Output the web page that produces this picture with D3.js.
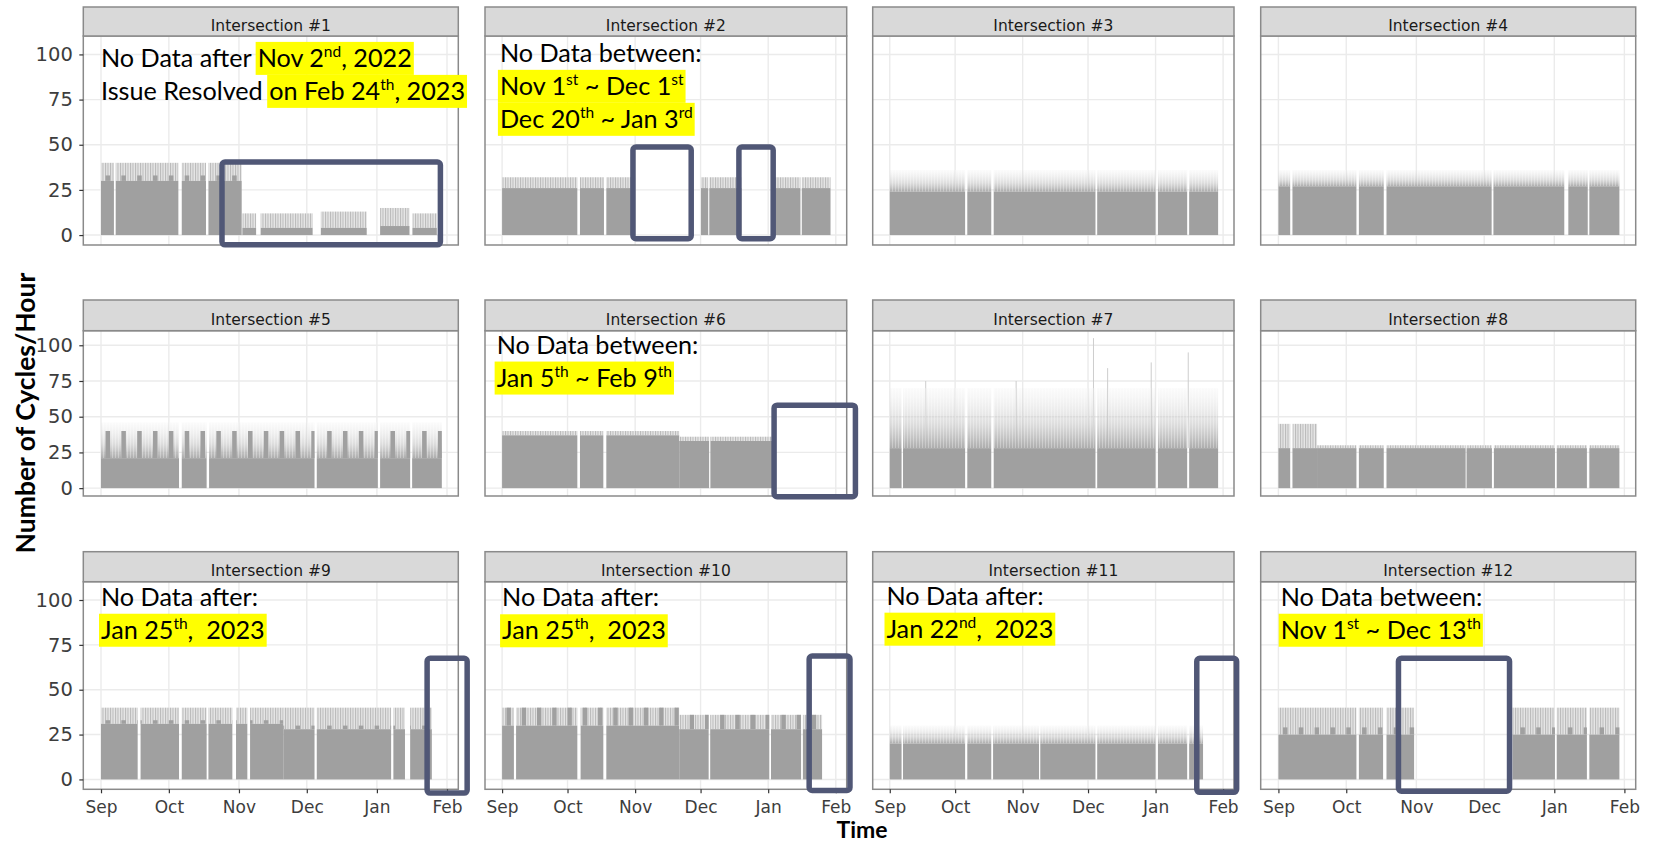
<!DOCTYPE html>
<html><head><meta charset="utf-8">
<script src="https://cdn.jsdelivr.net/npm/d3@7"></script>
<style>body{margin:0;background:#fff}text{white-space:pre}</style>
</head><body>
<svg id="chart" width="1655" height="846"></svg>
<script>
// ---------------- DATA ----------------
const panelTitles = ["Intersection #1","Intersection #2","Intersection #3","Intersection #4",
  "Intersection #5","Intersection #6","Intersection #7","Intersection #8",
  "Intersection #9","Intersection #10","Intersection #11","Intersection #12"];
const monthTicks = ["2022-09-01","2022-10-01","2022-11-01","2022-12-01","2023-01-01","2023-02-01"];
const monthLabels = ["Sep","Oct","Nov","Dec","Jan","Feb"];
const yTicks = [0,25,50,75,100];
const weekendSaturdays = ["2022-09-03","2022-09-10","2022-09-17","2022-09-24","2022-10-01","2022-10-08",
  "2022-10-15","2022-10-22","2022-10-29","2022-11-05","2022-11-12","2022-11-19","2022-11-26","2022-12-03",
  "2022-12-10","2022-12-17","2022-12-24","2022-12-31","2023-01-07","2023-01-14","2023-01-21","2023-01-28"];

// segments: [start, end, dense level, peak level, weekend level]
const seg1 = [["2022-09-01 00","2022-09-06 17",30,40,33],["2022-09-07 12","2022-10-05 05",30,40,33],
  ["2022-10-06 17","2022-10-17 10",30,40,33],["2022-10-18 12","2022-11-02 05",30,40,33],
  ["2022-11-02 12","2022-11-08 14",4,12,null],["2022-11-10 14","2022-12-03 14",4,12,null],
  ["2022-12-07 05","2022-12-27 12",4,13,null],["2023-01-02 10","2023-01-15 10",5,15,null],
  ["2023-01-16 17","2023-01-27 12",4,12,null]];
const seg2 = [["2022-09-01 00","2022-10-05 12",26,32,null],["2022-10-06 17","2022-10-17 17",26,32,null],
  ["2022-10-18 19","2022-11-01 00",26,32,null],["2022-12-01 05","2022-12-04 12",26,32,null],
  ["2022-12-05 00","2022-12-19 19",26,32,null],["2023-01-04 00","2023-01-15 19",26,32,null],
  ["2023-01-16 10","2023-01-29 14",26,32,null]];
const seg3 = [["2022-09-01 00","2022-10-05 14",24,36,null],["2022-10-06 14","2022-10-17 14",24,36,null],
  ["2022-10-18 17","2022-12-04 10",24,36,null],["2022-12-05 05","2023-01-01 00",24,36,null],
  ["2023-01-02 02","2023-01-15 12",24,36,null],["2023-01-16 10","2023-01-29 17",24,36,null]];
const seg4 = [["2022-09-01 00","2022-09-06 05",27,36,null],["2022-09-07 05","2022-10-05 12",27,36,null],
  ["2022-10-06 14","2022-10-17 14",27,36,null],["2022-10-18 19","2022-12-04 07",27,36,null],
  ["2022-12-05 02","2023-01-05 10",27,36,null],["2023-01-07 05","2023-01-15 19",27,36,null],
  ["2023-01-16 12","2023-01-29 19",27,36,null]];
const seg5 = [["2022-09-01 00","2022-10-05 12",21,46,40],["2022-10-06 17","2022-10-17 17",21,46,40],
  ["2022-10-18 19","2022-12-04 10",21,46,40],["2022-12-05 10","2023-01-01 10",21,46,40],
  ["2023-01-02 10","2023-01-15 17",21,46,40],["2023-01-16 14","2023-01-29 17",21,46,40]];
const seg6 = [["2022-09-01 00","2022-10-05 12",37,40,null],["2022-10-06 17","2022-10-17 10",37,40,null],
  ["2022-10-18 19","2022-11-21 05",37,40,null],["2022-11-21 05","2022-12-04 22",33,36,null],
  ["2022-12-05 12","2023-01-04 00",33,36,null]];
const seg7 = [["2022-09-01 00","2022-09-06 10",28,70,null],["2022-09-07 02","2022-10-05 14",28,70,null],
  ["2022-10-06 14","2022-10-17 14",28,70,null],["2022-10-18 17","2022-12-04 10",28,70,null],
  ["2022-12-05 05","2023-01-01 00",28,70,null],["2023-01-02 02","2023-01-15 12",28,70,null],
  ["2023-01-16 10","2023-01-29 17",28,70,null]];
const spikes7 = [["2022-09-17 12",75],["2022-10-29 00",75],["2022-12-03 12",105],["2022-12-10 00",84],
  ["2022-12-30 00",88],["2023-01-16 00",95]];
const seg8 = [["2022-09-01 00","2022-09-06 05",28,45,null],["2022-09-07 05","2022-09-18 02",28,45,null],
  ["2022-09-18 02","2022-10-05 12",28,30,null],["2022-10-06 14","2022-10-17 14",28,30,null],
  ["2022-10-18 19","2022-11-22 19",28,30,null],["2022-11-23 05","2022-12-04 10",28,30,null],
  ["2022-12-05 07","2023-01-01 07",28,30,null],["2023-01-02 02","2023-01-15 10",28,30,null],
  ["2023-01-16 12","2023-01-29 19",28,30,null]];
const seg9 = [["2022-09-01 00","2022-09-17 05",31,40,33],["2022-09-18 12","2022-10-05 12",31,40,33],
  ["2022-10-06 17","2022-10-17 17",31,40,33],["2022-10-18 12","2022-10-29 02",31,40,33],
  ["2022-10-30 17","2022-11-04 17",31,40,33],["2022-11-05 22","2022-11-20 14",31,40,33],
  ["2022-11-20 14","2022-12-04 10",28,40,30],["2022-12-05 10","2023-01-07 07",28,40,30],
  ["2023-01-08 07","2023-01-13 10",28,40,30],["2023-01-15 17","2023-01-25 07",28,40,30]];
const seg10 = [["2022-09-01 00","2022-09-06 10",30,40,40],["2022-09-07 10","2022-10-05 12",30,40,40],
  ["2022-10-07 00","2022-10-17 10",30,40,40],["2022-10-18 19","2022-11-21 05",30,40,40],
  ["2022-11-21 05","2022-12-04 17",28,36,36],["2022-12-05 10","2023-01-01 12",28,36,36],
  ["2023-01-02 07","2023-01-16 02",28,36,36],["2023-01-16 22","2023-01-25 17",28,36,36]];
const seg11 = [["2022-09-01 00","2022-09-06 10",20,30,null],["2022-09-07 02","2022-10-05 14",20,30,null],
  ["2022-10-06 14","2022-10-17 14",20,30,null],["2022-10-18 10","2022-11-08 12",20,30,null],
  ["2022-11-09 02","2022-12-04 10",20,30,null],["2022-12-05 05","2023-01-01 00",20,30,null],
  ["2023-01-02 02","2023-01-15 12",20,30,null],["2023-01-16 10","2023-01-22 19",20,30,null]];
const seg12 = [["2022-09-01 00","2022-10-05 12",25,40,29],["2022-10-06 14","2022-10-17 07",25,40,29],
  ["2022-10-18 19","2022-10-31 00",25,40,29],["2022-12-13 12","2023-01-01 07",25,40,29],
  ["2023-01-02 02","2023-01-15 10",25,40,29],["2023-01-16 12","2023-01-29 19",25,40,29]];

// highlighted "no data" boxes: [panel, start, end, low, high]
const gapBoxes = [[1,"2022-10-24 12","2023-01-29 02",-5.4,40.4],
  [2,"2022-10-31 00","2022-11-26 17",-2.0,48.7],[2,"2022-12-18 14","2023-01-03 07",-2.0,48.7],
  [6,"2023-01-03 17","2023-02-10 00",-6.0,58.1],[9,"2023-01-23 05","2023-02-09 22",-7.6,67.5],
  [10,"2023-01-19 19","2023-02-07 12",-6.1,68.8],[11,"2023-01-19 22","2023-02-07 05",-7.2,67.5],
  [12,"2022-10-24 02","2022-12-12 05",-6.6,67.5]];

// annotation runs: [text, highlighted, superscript]
const notes = [
  {panel:1, x:"2022-09-01 00", y:93.1, lines:[
    [["No Data after ",0,0],["Nov 2",1,0],["nd",1,1],[", 2022",1,0]],
    [["Issue Resolved ",0,0],["on Feb 24",1,0],["th",1,1],[", 2023",1,0]]]},
  {panel:2, x:"2022-08-31 00", y:95.9, lines:[
    [["No Data between:",0,0]],
    [["Nov 1",1,0],["st",1,1],[" ~ Dec 1",1,0],["st",1,1]],
    [["Dec 20",1,0],["th",1,1],[" ~ Jan 3",1,0],["rd",1,1]]]},
  {panel:6, x:"2022-08-29 12", y:94.2, lines:[
    [["No Data between:",0,0]],
    [["Jan 5",1,0],["th",1,1],[" ~ Feb 9",1,0],["th",1,1]]]},
  {panel:9, x:"2022-09-01 00", y:96.8, lines:[
    [["No Data after:",0,0]],
    [["Jan 25",1,0],["th",1,1],[",  2023",1,0]]]},
  {panel:10, x:"2022-09-01 00", y:96.5, lines:[
    [["No Data after:",0,0]],
    [["Jan 25",1,0],["th",1,1],[",  2023",1,0]]]},
  {panel:11, x:"2022-08-30 12", y:97.4, lines:[
    [["No Data after:",0,0]],
    [["Jan 22",1,0],["nd",1,1],[",  2023",1,0]]]},
  {panel:12, x:"2022-09-02 00", y:96.8, lines:[
    [["No Data between:",0,0]],
    [["Nov 1",1,0],["st",1,1],[" ~ Dec 13",1,0],["th",1,1]]]}
];

// ---------------- LAYOUT / STYLE ----------------
const allSegs = [seg1,seg2,seg3,seg4,seg5,seg6,seg7,seg8,seg9,seg10,seg11,seg12];
const fadeStyle = [false,false,true,true,true,false,true,false,false,false,true,false];
const cols = [[83.3,458.3],[485,846.7],[872.7,1234],[1260.7,1635.7]];
const rows = [{stripTop:7, top:36, bottom:245},{stripTop:300, top:330.7, bottom:496},{stripTop:551.7, top:581.7, bottom:789.3}];
const xDomain = [new Date(Date.UTC(2022,7,24,4)), new Date(Date.UTC(2023,1,6,0))];
const yDomain = [-5.5, 110.2];
const bodyColor = "#a0a0a0", boxColor = "#505776";
const noteFont = "Lato", noteSize = 25.2, supSize = 15.5, supRise = 10, lineGap = 33;

const pH = d3.utcParse("%Y-%m-%d %H"), pD = d3.utcParse("%Y-%m-%d");
const pd = s => s.length > 10 ? pH(s) : pD(s);

const svg = d3.select("#chart");
svg.append("rect").attr("width",1655).attr("height",846).attr("fill","#fff");
const defs = svg.append("defs");
const pat = defs.append("pattern").attr("id","streak").attr("patternUnits","userSpaceOnUse")
  .attr("width",2.5).attr("height",10);
pat.append("rect").attr("width",2.5).attr("height",10).attr("fill","#e6e6e6");
pat.append("rect").attr("width",1).attr("height",10).attr("fill","#b8b8b8");
const wpat = defs.append("pattern").attr("id","wstreak").attr("patternUnits","userSpaceOnUse")
  .attr("width",3).attr("height",10);
wpat.append("rect").attr("x",1).attr("width",1).attr("height",10).attr("fill","#fff").attr("opacity",0.3);
const grad = defs.append("linearGradient").attr("id","fade").attr("x1",0).attr("x2",0).attr("y1",0).attr("y2",1);
grad.append("stop").attr("offset",0).attr("stop-color","#dedede").attr("stop-opacity",0.12);
grad.append("stop").attr("offset",0.6).attr("stop-color","#c2c2c2").attr("stop-opacity",0.55);
grad.append("stop").attr("offset",1).attr("stop-color","#a8a8a8").attr("stop-opacity",0.95);

const monthDates = monthTicks.map(pd);
const sats = weekendSaturdays.map(pd);

const scales = [];
for (let i = 0; i < 12; i++) {
  const c = i % 4, r = Math.floor(i / 4);
  const R = rows[r];
  const x = d3.scaleUtc().domain(xDomain).range(cols[c]);
  const y = d3.scaleLinear().domain(yDomain).range([R.bottom, R.top]);
  scales.push({x, y});
  const g = svg.append("g");
  g.append("rect").attr("x",cols[c][0]).attr("y",R.top).attr("width",cols[c][1]-cols[c][0])
    .attr("height",R.bottom-R.top).attr("fill","#fff");
  g.selectAll(".gx").data(monthDates).join("line")
    .attr("x1",d=>x(d)).attr("x2",d=>x(d)).attr("y1",R.top).attr("y2",R.bottom)
    .attr("stroke","#ebebeb").attr("stroke-width",1.4);
  g.selectAll(".gy").data(yTicks).join("line")
    .attr("x1",cols[c][0]).attr("x2",cols[c][1]).attr("y1",d=>y(d)).attr("y2",d=>y(d))
    .attr("stroke","#ebebeb").attr("stroke-width",1.4);
  const dg = g.append("g");
  if (i === 6) {
    dg.selectAll(".sp").data(spikes7).join("line")
      .attr("x1",d=>x(pd(d[0]))).attr("x2",d=>x(pd(d[0]))).attr("y1",y(28)).attr("y2",d=>y(d[1]))
      .attr("stroke","#cdcdcd").attr("stroke-width",1);
  }
  allSegs[i].forEach(([s,e,body,peak,wk]) => {
    const x0 = x(pd(s)), x1 = x(pd(e));
    if (fadeStyle[i]) {
      dg.append("rect").attr("x",x0).attr("width",x1-x0).attr("y",y(peak)).attr("height",y(body)-y(peak))
        .attr("fill","url(#fade)");
      dg.append("rect").attr("x",x0).attr("width",x1-x0).attr("y",y(peak)).attr("height",y(body)-y(peak))
        .attr("fill","url(#wstreak)");
    } else {
      dg.append("rect").attr("x",x0).attr("width",x1-x0).attr("y",y(peak)).attr("height",y(body)-y(peak))
        .attr("fill","url(#streak)");
    }
    dg.append("rect").attr("x",x0).attr("width",x1-x0).attr("y",y(body)).attr("height",y(0)-y(body))
      .attr("fill",bodyColor);
    if (wk != null) {
      sats.forEach(sd => {
        const a = Math.max(+sd, +pd(s)), b = Math.min(+d3.utcDay.offset(sd,2), +pd(e));
        if (b > a) dg.append("rect").attr("x",x(new Date(a))).attr("width",x(new Date(b))-x(new Date(a)))
          .attr("y",y(wk)).attr("height",y(body)-y(wk)).attr("fill",bodyColor);
      });
    }
  });
  g.append("rect").attr("x",cols[c][0]).attr("y",R.top).attr("width",cols[c][1]-cols[c][0])
    .attr("height",R.bottom-R.top).attr("fill","none").attr("stroke","#8a8a8a").attr("stroke-width",1.5);
  g.append("rect").attr("x",cols[c][0]).attr("y",R.stripTop).attr("width",cols[c][1]-cols[c][0])
    .attr("height",R.top-R.stripTop).attr("fill","#d9d9d9").attr("stroke","#8a8a8a").attr("stroke-width",1.5);
  g.append("text").attr("x",(cols[c][0]+cols[c][1])/2).attr("y",R.top-5.5).attr("text-anchor","middle")
    .attr("font-family","DejaVu Sans").attr("font-size",15.5).attr("fill","#1a1a1a").text(panelTitles[i]);
  if (c === 0) {
    g.append("g").attr("transform",`translate(${cols[0][0]},0)`)
      .call(d3.axisLeft(y).tickValues(yTicks).tickSize(4).tickPadding(6.5))
      .call(a => a.select(".domain").remove())
      .call(a => a.selectAll("line").attr("stroke","#333").attr("stroke-width",1.2))
      .call(a => a.selectAll("text").attr("font-family","DejaVu Sans").attr("font-size",19.5).attr("fill","#3d3d3d"));
  }
  if (r === 2) {
    g.append("g").attr("transform",`translate(0,${R.bottom})`)
      .call(d3.axisBottom(x).tickValues(monthDates).tickFormat((d,k)=>monthLabels[k]).tickSize(4).tickPadding(8))
      .call(a => a.select(".domain").remove())
      .call(a => a.selectAll("line").attr("stroke","#333").attr("stroke-width",1.2))
      .call(a => a.selectAll("text").attr("font-family","DejaVu Sans").attr("font-size",17).attr("fill","#3d3d3d"));
  }
}

gapBoxes.forEach(([p,s,e,lo,hi]) => {
  const {x,y} = scales[p-1];
  svg.append("rect").attr("x",x(pd(s))).attr("y",y(hi)).attr("width",x(pd(e))-x(pd(s)))
    .attr("height",y(lo)-y(hi)).attr("rx",3).attr("fill","none")
    .attr("stroke",boxColor).attr("stroke-width",5.5);
});

notes.forEach(n => {
  const {x,y} = scales[n.panel-1];
  const x0 = x(pd(n.x)), y0 = y(n.y);
  const ng = svg.append("g");
  const hl = ng.append("g"), tl = ng.append("g");
  n.lines.forEach((line, li) => {
    const base = y0 + li*lineGap;
    let cx = x0; let a = null, b = null;
    line.forEach(([t,h,sup]) => {
      const el = tl.append("text").attr("x",cx).attr("y", sup ? base - supRise : base)
        .attr("font-family",noteFont).attr("font-size", sup ? supSize : noteSize).attr("fill","#000").text(t);
      const w = el.node().getComputedTextLength();
      if (h) { if (a === null) a = cx; b = cx + w; }
      cx += w;
    });
    if (a !== null) hl.append("rect").attr("x",a-2).attr("y",base-25).attr("width",b-a+4).attr("height",33)
      .attr("fill","#ffff00");
  });
});

svg.append("text").attr("transform","translate(35,413) rotate(-90)").attr("text-anchor","middle")
  .attr("font-family","Lato").attr("font-weight","bold").attr("font-size",26.5).attr("fill","#000")
  .text("Number of Cycles/Hour");
svg.append("text").attr("x",862).attr("y",838).attr("text-anchor","middle")
  .attr("font-family","Lato").attr("font-weight","bold").attr("font-size",23).attr("fill","#000")
  .text("Time");
</script>
</body></html>
